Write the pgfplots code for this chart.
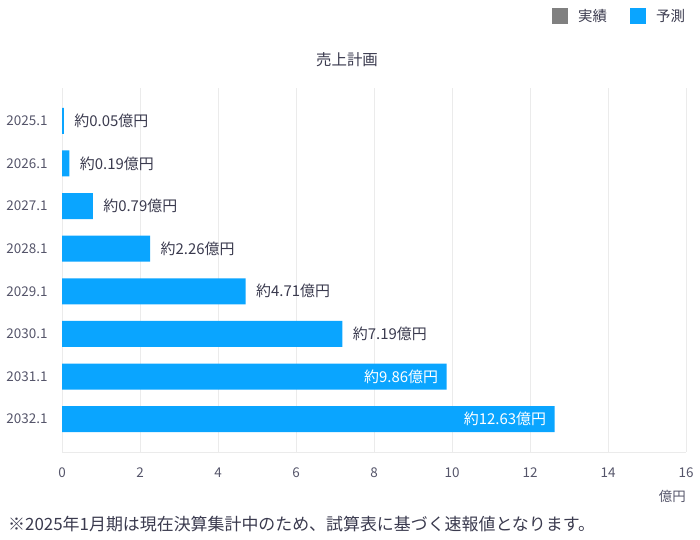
\documentclass[border=0pt]{standalone}
\usepackage{fontspec}
\setmainfont{Noto Sans CJK JP}
\usepackage{pgfplots}
\pgfplotsset{compat=1.18}
\definecolor{barblue}{HTML}{0AA5FF}
\definecolor{txt}{HTML}{3A3A4E}
\definecolor{ticktxt}{HTML}{55556A}
\definecolor{gridgray}{HTML}{EBEBEB}
\definecolor{leggray}{HTML}{808080}
\begin{document}
\begin{tikzpicture}[x=1bp,y=1bp]
\path[use as bounding box] (0,0) rectangle (700,540);
\begin{axis}[
  at={(62bp,88bp)}, anchor=south west,
  scale only axis, width=624bp, height=364bp,
  xbar, bar width=26bp, bar shift=0pt,
  xmin=0, xmax=16, xtick={0,2,...,16},
  ymin=-0.77, ymax=7.77, y dir=reverse,
  ytick={0,...,7},
  yticklabels={2025.1,2026.1,2027.1,2028.1,2029.1,2030.1,2031.1,2032.1},
  xmajorgrids, grid style={draw=gridgray, line width=0.8bp},
  axis line style={draw=none},
  major tick length=0pt,
  tick label style={font=\fontsize{13.5}{15}\selectfont, text=ticktxt},
  xticklabel style={yshift=-12bp},
  yticklabel style={xshift=-11bp},
  /pgf/number format/assume math mode=true,
  clip=false,
]
\draw[gridgray, line width=0.8bp] (axis cs:0,7.77) -- (axis cs:16,7.77);
\addplot[fill=barblue, draw=none,
  nodes near coords={約\pgfmathprintnumber[fixed,precision=2,fixed zerofill]{\pgfplotspointmeta}億円},
  nodes near coords style={anchor=west, xshift=7bp, text=txt, font=\fontsize{15}{17}\selectfont},
  point meta=x]
  coordinates {(0.05,0) (0.19,1) (0.79,2) (2.26,3) (4.71,4) (7.19,5)};
\addplot[fill=barblue, draw=none,
  nodes near coords={約\pgfmathprintnumber[fixed,precision=2,fixed zerofill]{\pgfplotspointmeta}億円},
  nodes near coords style={anchor=east, xshift=-5bp, text=white, font=\fontsize{15}{17}\selectfont},
  point meta=x]
  coordinates {(9.86,6) (12.63,7)};
\end{axis}
% title
\node[text=txt, font=\fontsize{15.5}{17}\selectfont] at (347,480) {売上計画};
% legend
\fill[leggray] (552,516) rectangle (568,532);
\node[anchor=west, text=txt, font=\fontsize{14.5}{16}\selectfont, inner sep=0pt] at (578,524) {実績};
\fill[barblue] (630,516) rectangle (646,532);
\node[anchor=west, text=txt, font=\fontsize{14.5}{16}\selectfont, inner sep=0pt] at (656,524) {予測};
% unit
\node[anchor=east, text=ticktxt, font=\fontsize{13.5}{15}\selectfont, inner sep=0pt] at (686,44) {億円};
% footnote
\node[anchor=west, text=txt, font=\fontsize{17}{19}\selectfont, inner sep=0pt] at (8,16) {※2025年1月期は現在決算集計中のため、試算表に基づく速報値となります。};
\end{tikzpicture}
\end{document}
